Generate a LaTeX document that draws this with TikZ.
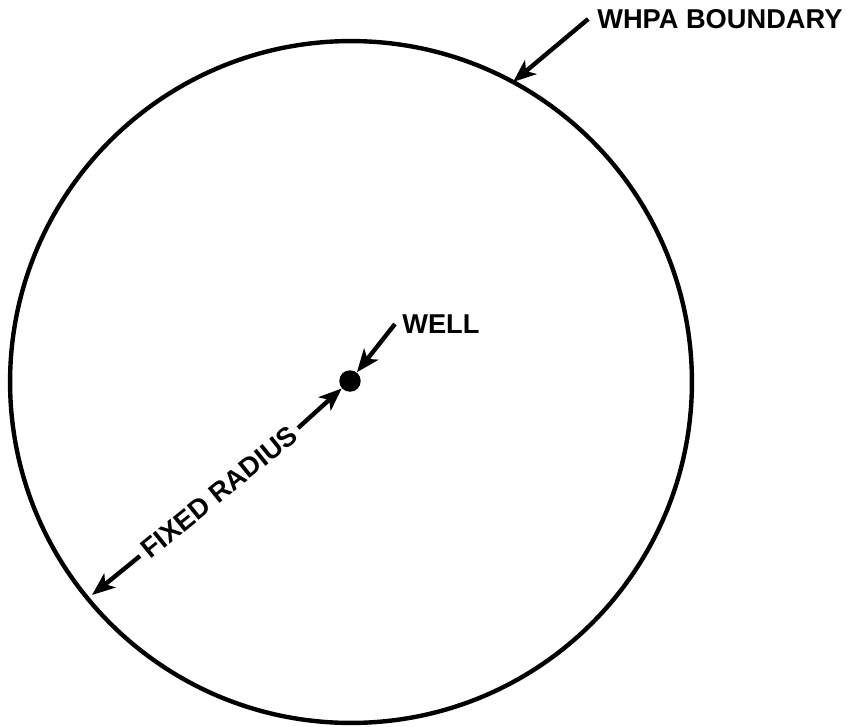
\documentclass[tikz,border=0pt]{standalone}
\usepackage{fontspec}
\setmainfont{Liberation Sans}
\usetikzlibrary{arrows.meta}
\usetikzlibrary{positioning}

\begin{document}
\begin{tikzpicture}[x=0.02cm,y=-0.02cm,
  lbl/.style={font=\fontsize{15.5}{18}\selectfont\bfseries,inner sep=0pt},
  ptr/.style={line width=2.5pt,-{Stealth[length=0.46cm,width=0.36cm,inset=0.12cm]}}]
\useasboundingbox (0,0) rectangle (853,727);
\draw[line width=2.5pt] (351,382) circle[radius=6.82cm];
\node[circle,fill=black,inner sep=0pt,minimum size=0.43cm] (well) at (350,381) {};
\node[lbl,anchor=west] (welltxt) at (402,324) {WELL};
\node[lbl,anchor=west] (whpa) at (597,19) {WHPA BOUNDARY};
\node[lbl,rotate=39,inner sep=3pt] (radius) at (219,492) {FIXED RADIUS};
\coordinate (bnd) at (513,82);
\coordinate (rim) at (92,595);
\draw[ptr] ([xshift=-5pt]whpa.west) -- (bnd);
\draw[ptr] ([xshift=-4pt]welltxt.west) -- (well);
\draw[ptr] (radius.east) -- (well);
\draw[ptr] (radius.west) -- (rim);
\end{tikzpicture}
\end{document}
